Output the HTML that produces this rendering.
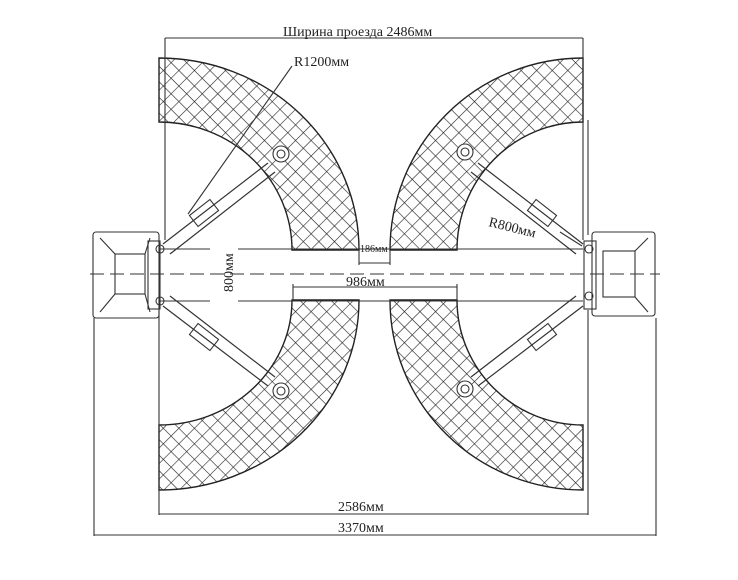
<!DOCTYPE html>
<html><head><meta charset="utf-8"><style>
html,body{margin:0;padding:0;background:#fff;}
svg{display:block;}
text{font-family:"Liberation Serif",serif;fill:#222;}
</style></head><body>
<svg width="738" height="580" viewBox="0 0 738 580" xmlns="http://www.w3.org/2000/svg">
<defs>
<pattern id="h" width="11" height="11" patternUnits="userSpaceOnUse" patternTransform="rotate(45)">
<path d="M0 0H11M0 0V11" stroke="#222" stroke-width="1.2" fill="none"/>
</pattern>
</defs>
<g stroke="#222" stroke-width="1.4" fill="url(#h)">
<path d="M159 58 A200 192 0 0 1 359 250 L292 250 A133 128 0 0 0 159 122 Z"/>
<path d="M159 490 A200 190 0 0 0 359 300 L292 300 A133 125 0 0 1 159 425 Z"/>
<path d="M583 58 A193 192 0 0 0 390 250 L457 250 A126 128 0 0 1 583 122 Z"/>
<path d="M583 490 A193 190 0 0 1 390 300 L457 300 A126 125 0 0 0 583 425 Z"/>
</g>
<g stroke="#333" stroke-width="1.1" fill="none">
<line x1="165" y1="38" x2="583" y2="38"/>
<line x1="165" y1="38" x2="165" y2="240"/>
<line x1="583" y1="38" x2="583" y2="240"/>
<line x1="159" y1="310" x2="159" y2="515"/>
<line x1="588" y1="310" x2="588" y2="515"/>
<line x1="588" y1="120" x2="588" y2="235"/>
<line x1="159" y1="514" x2="588" y2="514"/>
<line x1="94" y1="318" x2="94" y2="536"/>
<line x1="656" y1="318" x2="656" y2="536"/>
<line x1="94" y1="535" x2="656" y2="535"/>
<line x1="160" y1="249" x2="210" y2="249"/>
<line x1="238" y1="249" x2="583" y2="249"/>
<line x1="160" y1="301" x2="210" y2="301"/>
<line x1="238" y1="301" x2="583" y2="301"/>
<line x1="90" y1="274" x2="660" y2="274" stroke-dasharray="14 6"/>
<line x1="359" y1="250" x2="359" y2="265"/><line x1="390" y1="250" x2="390" y2="265"/>
<line x1="359" y1="263" x2="390" y2="263"/>
<line x1="293" y1="287" x2="457" y2="287"/>
<line x1="293" y1="284" x2="293" y2="300"/><line x1="457" y1="284" x2="457" y2="300"/>
<line x1="292" y1="66" x2="188" y2="214"/>
<line x1="560" y1="232" x2="582" y2="246"/>
<rect x="93" y="232" width="66" height="86" rx="3"/>
<rect x="148" y="241" width="12" height="68"/>
<rect x="115" y="254" width="30" height="40"/>
<path d="M100 238 L115 254 M150 238 L145 254 M100 312 L115 294 M150 312 L145 294"/>
<circle cx="160" cy="249" r="4"/><circle cx="160" cy="301" r="4"/>
<rect x="592" y="232" width="63" height="84" rx="3"/>
<rect x="584" y="241" width="12" height="68"/>
<rect x="603" y="251" width="32" height="46"/>
<path d="M648 238 L635 251 M648 312 L635 297"/>
<circle cx="589" cy="249" r="4"/><circle cx="589" cy="296" r="4"/>
<g stroke-width="1.2">
<path d="M163 244 L268 163 M170 254 L275 172"/>
<path d="M163 306 L268 386 M170 296 L275 377"/>
<path d="M583 244 L478 163 M576 254 L471 172"/>
<path d="M583 306 L478 386 M576 296 L471 377"/>
</g>
<rect x="197" y="200" width="14" height="26" transform="rotate(52 204 213)"/>
<rect x="197" y="324" width="14" height="26" transform="rotate(-52 204 337)"/>
<rect x="535" y="200" width="14" height="26" transform="rotate(-52 542 213)"/>
<rect x="535" y="324" width="14" height="26" transform="rotate(52 542 337)"/>
<circle cx="281" cy="154" r="8" fill="#fff"/><circle cx="281" cy="154" r="4"/>
<circle cx="281" cy="391" r="8" fill="#fff"/><circle cx="281" cy="391" r="4"/>
<circle cx="465" cy="152" r="8" fill="#fff"/><circle cx="465" cy="152" r="4"/>
<circle cx="465" cy="389" r="8" fill="#fff"/><circle cx="465" cy="389" r="4"/>
</g>
<g font-size="14">
<text x="283" y="36">Ширина проезда  2486мм</text>
<text x="294" y="66">R1200мм</text>
<text x="488" y="226" transform="rotate(14 488 226)">R800мм</text>
<text x="360" y="252" font-size="10">186мм</text>
<text x="346" y="286">986мм</text>
<text x="233" y="292" transform="rotate(-90 233 292)">800мм</text>
<text x="338" y="511">2586мм</text>
<text x="338" y="532">3370мм</text>
</g>
</svg>
</body></html>
